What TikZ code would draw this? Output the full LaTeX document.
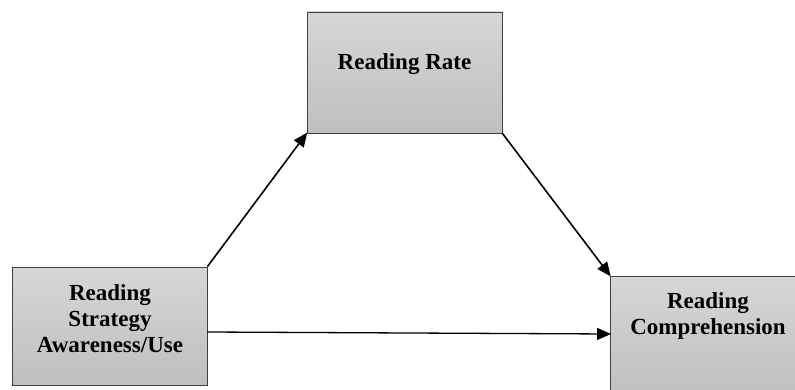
\documentclass[tikz,border=0pt]{standalone}
\usepackage{fontspec}
\setmainfont{Liberation Serif}
\usetikzlibrary{arrows.meta}
\tikzset{
  box/.style={draw=black!75, line width=0.9pt, top color=black!16, bottom color=black!25,
    inner sep=0pt, minimum width=195pt, minimum height=121pt},
  label text/.style={inner sep=0pt, align=center, font=\fontsize{23}{26}\selectfont\bfseries},
  link/.style={line width=1.6pt, -{Triangle[length=14pt,width=12pt]}, shorten >=-1pt}
}
\begin{document}
\begin{tikzpicture}[x=1pt, y=-1pt]
  \useasboundingbox (0,0) rectangle (795,390);
  \clip (0,0) rectangle (795,390);
  % boxes
  \node[box] (rate) at (404.5,72.5) {};
  \node[box, minimum height=118pt] (strat) at (109.5,326) {};
  \node[box] (comp) at (708,336.5) {};
  % box texts
  \node[label text, anchor=north] (rateT) at (404.5,53) {Reading Rate};
  \node[label text, anchor=north] (stratT) at (110,284) {Reading\\Strategy\\Awareness/Use};
  \node[label text, anchor=north] (compT) at (708,292) {Reading\\Comprehension};
  % paths
  \draw[link] (strat.north east) -- (rate.south west);
  \draw[link] (rate.south east) -- (comp.north west);
  \draw[link, line width=1.3pt] ([yshift=-6pt]strat.east) -- ([yshift=2.5pt]comp.west);
\end{tikzpicture}
\end{document}
